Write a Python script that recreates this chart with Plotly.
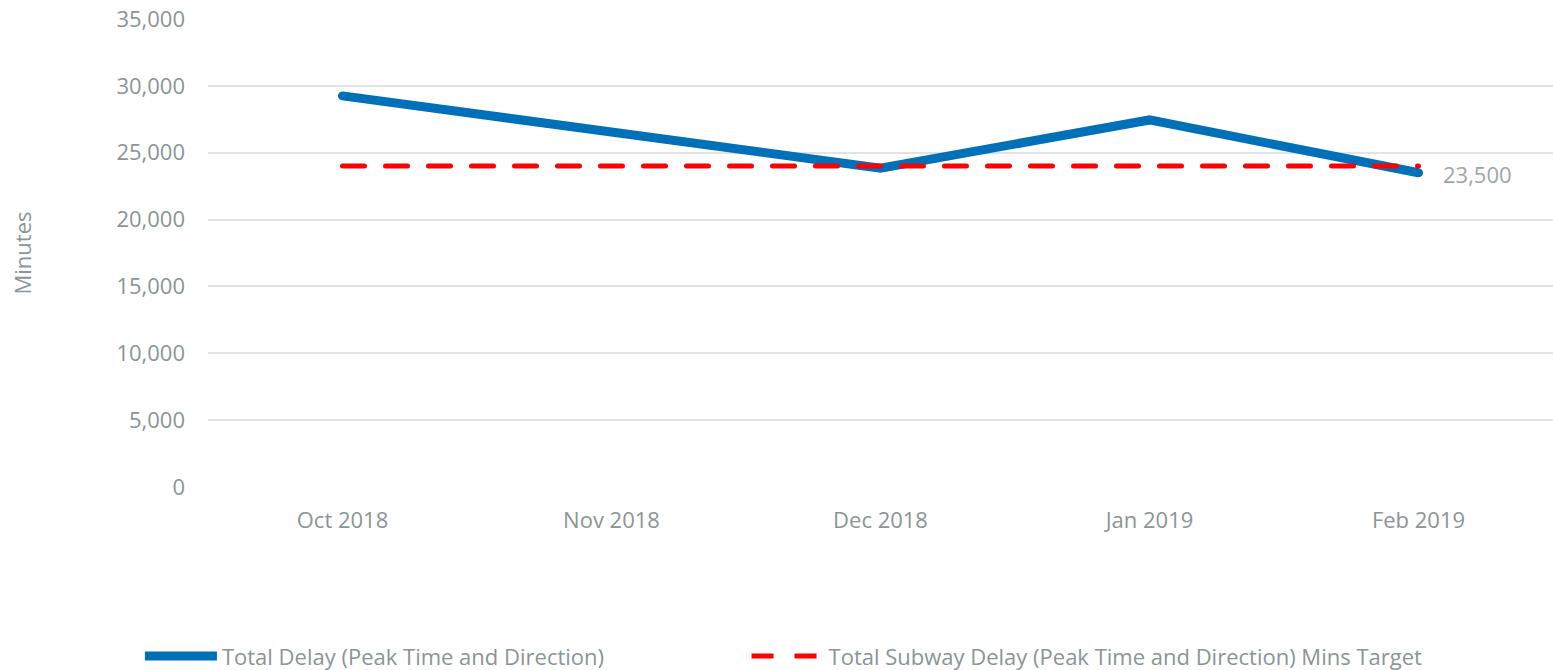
import plotly.graph_objects as go

months = ["Oct 2018", "Nov 2018", "Dec 2018", "Jan 2019", "Feb 2019"]
total_delay = [29250, 26550, 23850, 27450, 23500]
target = [24000, 24000, 24000, 24000, 24000]
last_label = "23,500"

grey = "#8a9595"
font_family = "Open Sans, Noto Sans, sans-serif"
fs = 22

fig = go.Figure()
fig.add_trace(go.Scatter(
    x=months, y=total_delay, mode="lines",
    name="Total Delay (Peak Time and Direction)",
    line=dict(color="#0070b8", width=9),
    legend="legend",
))
fig.add_trace(go.Scatter(
    x=months, y=target, mode="lines",
    name="Total Subway Delay (Peak Time and Direction) Mins Target",
    line=dict(color="#ff0000", width=5, dash="22px,21px"),
    legend="legend2",
))
fig.add_annotation(
    x=months[-1], y=total_delay[-1], text=last_label, showarrow=False,
    xanchor="left", yanchor="middle", xshift=22, yshift=-1,
    font=dict(color="#a0a6a6", size=fs, family=font_family),
)

leg_common = dict(
    orientation="h", xref="container", yref="container",
    xanchor="left", yanchor="middle",
    font=dict(size=fs, color=grey, family=font_family),
    itemwidth=72,
)

fig.update_layout(
    width=1553, height=670,
    margin=dict(l=208, r=0, t=19, b=183, autoexpand=False),
    plot_bgcolor="white", paper_bgcolor="white",
    font=dict(family=font_family, size=fs, color=grey),
    showlegend=True,
    legend=dict(x=0.0901, y=0.0207, **leg_common),
    legend2=dict(x=0.4807, y=0.0207, **leg_common),
    xaxis=dict(
        type="category", range=[-0.5, 4.5],
        showgrid=False, showline=False, zeroline=False,
        ticks="", tickfont=dict(size=fs, color=grey), ticklabelstandoff=18,
    ),
    yaxis=dict(
        range=[0, 35000], dtick=5000, tickformat=",",
        showgrid=True, gridcolor="#e3e3e3", gridwidth=2,
        zeroline=False, showline=False, ticks="",
        tickfont=dict(size=fs, color=grey), ticklabelstandoff=22,
        title=dict(text="Minutes", font=dict(size=fs, color=grey), standoff=78),
    ),
)

fig.write_html(
    "out.html",
    config={"displayModeBar": False},
    post_script="document.body.style.margin='0';document.body.style.overflow='hidden';"
                "document.querySelectorAll('.scatterlayer path.js-line').forEach(function(p){p.style.strokeLinecap='round';});",
)
